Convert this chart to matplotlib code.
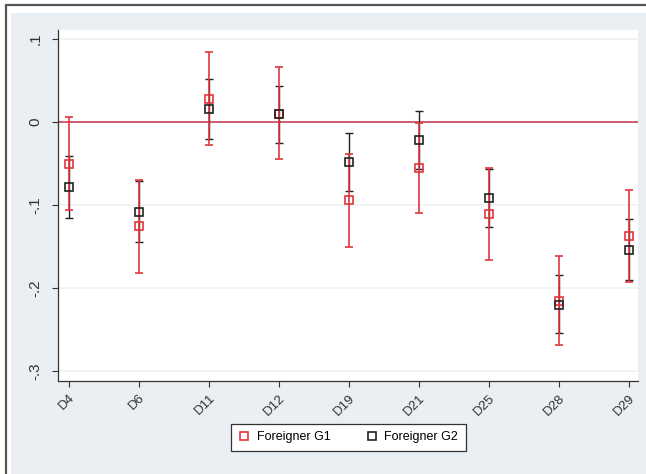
import numpy as np
import matplotlib.pyplot as plt
from matplotlib.patches import Rectangle

plt.rcParams['font.family'] = ['Liberation Sans', 'DejaVu Sans']

districts = ["D4", "D6", "D11", "D12", "D19", "D21", "D25", "D28", "D29"]

# coefficient estimates and 95% bounds
g1_est = [-0.050, -0.125, 0.028, 0.010, -0.094, -0.055, -0.111, -0.215, -0.137]
g1_lo = [-0.106, -0.182, -0.028, -0.044, -0.150, -0.109, -0.166, -0.269, -0.193]
g1_hi = [0.006, -0.070, 0.084, 0.066, -0.038, -0.001, -0.055, -0.161, -0.082]

g2_est = [-0.078, -0.108, 0.016, 0.010, -0.048, -0.022, -0.092, -0.220, -0.154]
g2_lo = [-0.115, -0.145, -0.020, -0.025, -0.083, -0.057, -0.126, -0.254, -0.190]
g2_hi = [-0.041, -0.071, 0.052, 0.043, -0.013, 0.013, -0.057, -0.184, -0.117]

yticks = [0.1, 0, -0.1, -0.2, -0.3]
ytick_labels = [".1", "0", "-.1", "-.2", "-.3"]

red = "#e0363c"
dark = "#222222"
bg = "#e9eff2"

fig = plt.figure(figsize=(6.46, 4.74), dpi=100)
fig.patch.set_facecolor("white")

# stata-like background band and outer frame
fig.add_artist(Rectangle((11 / 646, 0), 1, (474 - 13) / 474,
                         transform=fig.transFigure, facecolor=bg,
                         edgecolor="none", zorder=-2))
fig.add_artist(Rectangle((6 / 646, -0.1), 1, (474 - 5) / 474 + 0.1,
                         transform=fig.transFigure, facecolor="none",
                         edgecolor="#555555", lw=1.6, zorder=-1))

ax = fig.add_axes([58 / 646, 1 - 381 / 474, 580 / 646, 351 / 474])
ax.set_facecolor("white")

x = np.arange(len(districts))

for y in yticks:
    if y != 0:
        ax.axhline(y, color="#eef2f4", lw=1.2, zorder=0)
ax.axhline(0, color="#c8506a", lw=1.3, zorder=1)

ax.errorbar(x, g2_est, yerr=[np.subtract(g2_est, g2_lo), np.subtract(g2_hi, g2_est)],
            fmt="none", ecolor=dark, elinewidth=1.0, capsize=3, capthick=1.0, zorder=2)
ax.errorbar(x, g1_est, yerr=[np.subtract(g1_est, g1_lo), np.subtract(g1_hi, g1_est)],
            fmt="none", ecolor=red, elinewidth=1.2, capsize=3, capthick=1.2, zorder=3)
ax.plot(x, g1_est, "s", ms=6, mfc="none", mec=red, mew=1.2, zorder=4,
        label="Foreigner G1")
ax.plot(x, g2_est, "s", ms=6, mfc="none", mec=dark, mew=1.2, zorder=5,
        label="Foreigner G2")

ax.set_xlim(-0.157, 8.13)
ax.set_ylim(-0.312, 0.111)
ax.set_xticks(x)
ax.set_xticklabels(districts, rotation=45, ha="right", rotation_mode="anchor",
                   fontsize=9.5, color="#333333")
ax.set_yticks(yticks)
ax.set_yticklabels(ytick_labels, rotation=90, va="center", fontsize=11,
                   color="#333333")
ax.tick_params(axis="both", length=4, width=0.8, color="#333333", pad=4)
ax.tick_params(axis="y", pad=7)

for side in ["top", "right"]:
    ax.spines[side].set_visible(False)
for side in ["left", "bottom"]:
    ax.spines[side].set_color("#333333")
    ax.spines[side].set_linewidth(0.9)

handles, labels = ax.get_legend_handles_labels()
leg = fig.legend(handles, labels, loc="center", bbox_to_anchor=(0.539, 0.078),
                 ncol=2, fancybox=False, framealpha=1, edgecolor="#333333",
                 fontsize=9, handlelength=1.0, handletextpad=0.5,
                 columnspacing=2.8, markerscale=0.85, borderpad=0.6)
leg.get_frame().set_linewidth(0.9)

plt.savefig("out.png", dpi=100)
